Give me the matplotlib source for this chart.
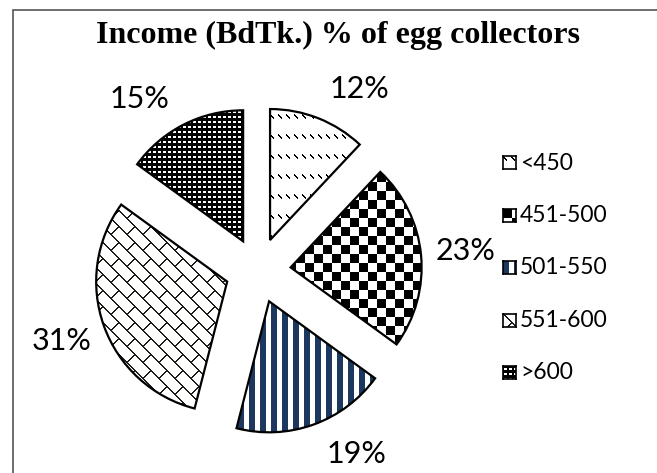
import numpy as np
import matplotlib.pyplot as plt
from matplotlib.colors import to_rgb
from matplotlib.patches import Rectangle

# Income groups (BdTk.) and share of egg collectors (%)
labels = ['<450', '451-500', '501-550', '551-600', '>600']
shares = [12, 23, 19, 31, 15]

W, H, DPI = 657, 473, 100
NAVY = '#1c385e'
DARK = '#1e1e16'
# angular nudge (deg) of each % label away from the slice middle, like Excel's best fit
label_shift = [-9, 0, 10, 0, 9]


def pattern(kind, h, w):
    # pixel fill patterns, one per slice
    yy, xx = np.mgrid[0:h, 0:w]
    img = np.ones((h, w, 3))
    if kind == 0:  # rows of short "\" dashes
        d = (yy % 20) - (xx % 8)
        mask = ((d == 0) | (d == 1)) & ((xx % 8) < 4)
        img[mask] = 0
    elif kind == 1:  # large checkerboard
        mask = ((xx // 9) + (yy // 9)) % 2 == 0
        img[mask] = 0
    elif kind == 2:  # vertical navy stripes
        mask = (xx % 11) < 6
        img[mask] = to_rgb(NAVY)
    elif kind == 3:  # diagonal brick lattice
        u = xx - yy
        v = xx + yy
        k = u // 16
        mask = ((u % 16) < 2) | (((v - 16 * (k % 2)) % 32) < 2)
        img[mask] = to_rgb(DARK)
    else:  # black with small white squares
        img[:] = 0
        mask = ((xx % 5) >= 1) & ((xx % 5) <= 3) & ((yy % 5) >= 2) & ((yy % 5) <= 3)
        img[mask] = 1
    return img


fig = plt.figure(figsize=(W / DPI, H / DPI), dpi=DPI)

# pie axes: centre and radius in pixels
R = 131
L = 1.5
cx, cy = 258, 270.5
ax = fig.add_axes([(cx - L * R) / W, 1 - (cy + L * R) / H, 2 * L * R / W, 2 * L * R / H])

wedges, _, autotexts = ax.pie(shares, explode=[0.25] * len(shares), startangle=90,
                              counterclock=False, colors=['none'] * len(shares),
                              wedgeprops=dict(edgecolor='black', linewidth=1.6),
                              autopct='%.0f%%', pctdistance=1.34,
                              textprops=dict(family='Lato', fontsize=22))

# move the % labels round their slice by the nudge angle
for w, t, da in zip(wedges, autotexts, label_shift):
    th = np.deg2rad((w.theta1 + w.theta2) / 2 + da)
    t.set_position((w.center[0] + 1.34 * w.r * np.cos(th), w.center[1] + 1.34 * w.r * np.sin(th)))

N = int(round(2 * L * R))
for i, w in enumerate(wedges):
    im = ax.imshow(pattern(i, N, N), extent=(-L, L, -L, L), interpolation='nearest', zorder=0.5)
    im.set_clip_path(w)

ax.set_xlim(-L, L)
ax.set_ylim(-L, L)
ax.set_aspect('equal')
ax.axis('off')

fig.text(338 / W, 1 - 35 / H, 'Income (BdTk.) % of egg collectors', ha='center', va='center',
         family='Liberation Serif', fontweight='bold', fontsize=23)

# legend drawn by hand: pattern swatch + label
leg_y = 163
for i, lab in enumerate(labels):
    yc = leg_y + i * 52.4
    sw = fig.add_axes([503 / W, 1 - (yc + 6.5) / H, 13 / W, 13 / H])
    sw.imshow(pattern(i, 13, 13), interpolation='nearest', aspect='auto')
    sw.set_xticks([])
    sw.set_yticks([])
    for s in sw.spines.values():
        s.set_linewidth(1.2)
    fig.text(520 / W, 1 - yc / H, lab, ha='left', va='center', family='Lato', fontsize=16.5)

# outer frame (only left and top edges visible)
fig.add_artist(Rectangle((13 / W, -0.5), 2, 1.5 - 10 / H, transform=fig.transFigure,
                         fill=False, edgecolor='#555555', linewidth=1.2))

fig.savefig('out.png', dpi=DPI)
